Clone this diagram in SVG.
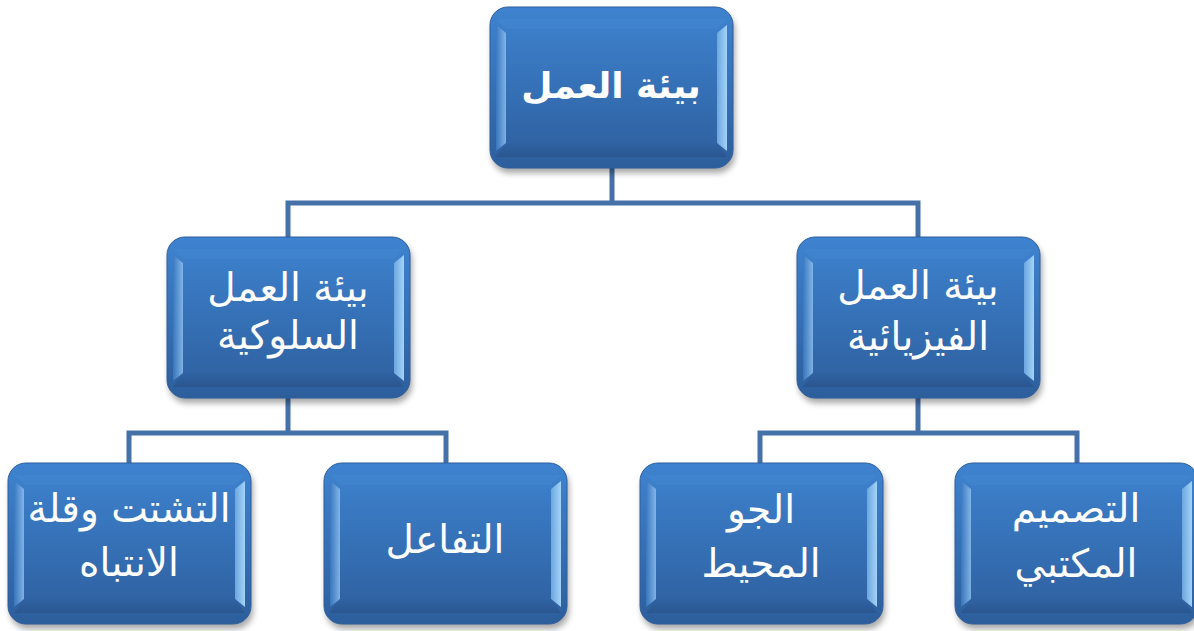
<svg xmlns="http://www.w3.org/2000/svg" xmlns:xlink="http://www.w3.org/1999/xlink" width="1194" height="631" viewBox="0 0 1194 631">
<style>
.conn{fill:none;stroke:#4571a9;stroke-width:5;stroke-linecap:square}
.t{font-family:"DejaVu Sans","Noto Sans",sans-serif;fill:#ffffff;text-anchor:middle;font-size:39px}
.tb{font-weight:bold;font-size:36px}
</style>
<defs>
<linearGradient id="gBase" x1="0" y1="0" x2="0" y2="1">
<stop offset="0" stop-color="#3e83d0"/>
<stop offset="1" stop-color="#2d5e9c"/>
</linearGradient>
<linearGradient id="gLeft" x1="0" y1="0" x2="1" y2="0">
<stop offset="0" stop-color="#3a78c0"/>
<stop offset="1" stop-color="#8ec0ee"/>
</linearGradient>
<linearGradient id="gRight" x1="0" y1="0" x2="1" y2="0">
<stop offset="0" stop-color="#6fa9e2"/>
<stop offset="1" stop-color="#a9d8fa"/>
</linearGradient>
<linearGradient id="gBot" x1="0" y1="0" x2="0" y2="1">
<stop offset="0" stop-color="#2f62a2"/>
<stop offset="1" stop-color="#284f86"/>
</linearGradient>
<filter id="sh" x="-10%" y="-10%" width="120%" height="130%">
<feGaussianBlur stdDeviation="3"/>
</filter>
<g id="box">
<rect x="2" y="5" width="243" height="161" rx="18" fill="#000" opacity="0.35" filter="url(#sh)"/>
<rect x="0" y="0" width="243" height="161" rx="18" fill="url(#gBase)" stroke="#2f5f9c" stroke-width="1"/>
<polygon points="6,18 16,26 16,136 6,144" fill="url(#gLeft)" opacity="0.85"/>
<polygon points="237,18 227,26 227,136 237,144" fill="url(#gRight)" opacity="0.95"/>
<polygon points="16,136 227,136 237,150 6,150" fill="url(#gBot)" opacity="0.6"/>
<polygon points="6,12 237,12 227,22 16,22" fill="#4a8fd8" opacity="0.25"/>
</g>
</defs>
<g id="connectors">
<path class="conn" d="M612 167 V203 M288 203 H918 M288 203 V237 M918 203 V237"/>
<path class="conn" d="M288 398 V433 M129 433 H446 M129 433 V463 M446 433 V463"/>
<path class="conn" d="M918 398 V433 M760 433 H1077 M760 433 V463 M1077 433 V463"/>
</g>
<g id="node-root">
<use xlink:href="#box" x="490" y="7"/>
<text class="t tb" x="611" y="98">بيئة العمل</text>
</g>
<g id="node-behavioral">
<use xlink:href="#box" x="167" y="237"/>
<text class="t" x="288" y="301">بيئة العمل</text>
<text class="t" x="288" y="349">السلوكية</text>
</g>
<g id="node-physical">
<use xlink:href="#box" x="797" y="237"/>
<text class="t" x="918" y="299">بيئة العمل</text>
<text class="t" x="918" y="350">الفيزيائية</text>
</g>
<g id="node-distraction">
<use xlink:href="#box" x="8" y="463"/>
<text class="t" x="129" y="522">التشتت وقلة</text>
<text class="t" x="129" y="576">الانتباه</text>
</g>
<g id="node-interaction">
<use xlink:href="#box" x="324" y="463"/>
<text class="t" x="445" y="553">التفاعل</text>
</g>
<g id="node-ambient">
<use xlink:href="#box" x="640" y="463"/>
<text class="t" x="761" y="523">الجو</text>
<text class="t" x="761" y="577">المحيط</text>
</g>
<g id="node-office">
<use xlink:href="#box" x="955" y="463"/>
<text class="t" x="1076" y="522">التصميم</text>
<text class="t" x="1076" y="577">المكتبي</text>
</g>
</svg>
